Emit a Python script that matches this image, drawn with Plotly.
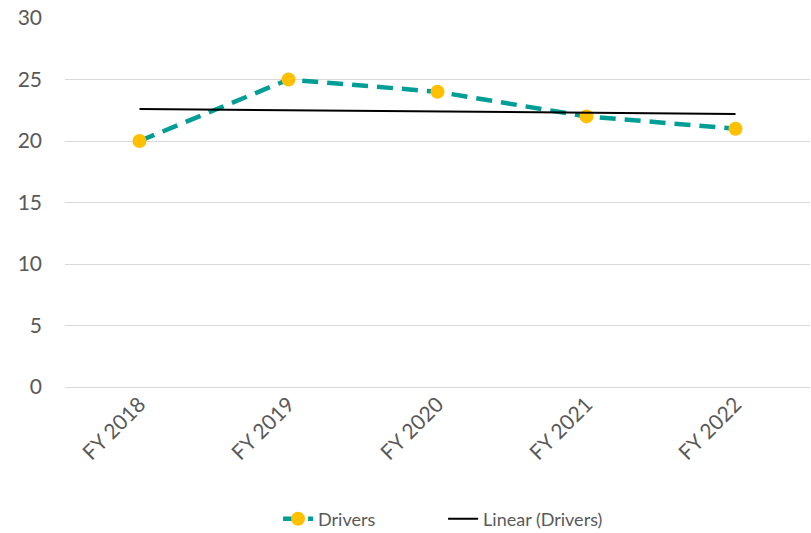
import numpy as np
import plotly.graph_objects as go

categories = ["FY 2018", "FY 2019", "FY 2020", "FY 2021", "FY 2022"]
drivers = [20, 25, 24, 22, 21]
y_ticks = [0, 5, 10, 15, 20, 25, 30]

# Linear trendline (least squares), as in the Excel chart
xi = np.arange(1, len(drivers) + 1)
slope, intercept = np.polyfit(xi, drivers, 1)
trend = list(slope * xi + intercept)

font_family = "Lato, 'Open Sans', sans-serif"
text_color = "#595959"

fig = go.Figure()
fig.add_trace(go.Scatter(
    x=categories, y=drivers, name="Drivers", mode="lines+markers",
    line=dict(color="#009E96", width=4.5, dash="16px,9px"),
    marker=dict(color="#FFC000", size=14, line=dict(width=0)),
))
fig.add_trace(go.Scatter(
    x=categories, y=trend, name="Linear (Drivers)", mode="lines",
    line=dict(color="#000000", width=2),
))

fig.update_layout(
    width=811, height=533,
    margin=dict(l=65, r=1, t=18, b=146, autoexpand=False),
    paper_bgcolor="white", plot_bgcolor="white",
    font=dict(family=font_family, size=20, color=text_color),
    showlegend=True,
    legend=dict(orientation="h", x=0.286, xanchor="left", y=-0.358, yanchor="middle",
                font=dict(size=18, color=text_color), entrywidth=120,
                traceorder="normal"),
    xaxis=dict(type="category", showgrid=False, showline=False, ticks="",
               tickangle=-45, tickfont=dict(size=21, color=text_color),
               range=[-0.5, len(categories) - 0.5], automargin=False),
    yaxis=dict(range=[0, 30], tickvals=y_ticks, showgrid=True, gridcolor="#D9D9D9",
               gridwidth=1.3, zeroline=True, zerolinecolor="#D9D9D9", zerolinewidth=1.3,
               showline=False, ticks="", ticklabelstandoff=22, automargin=False,
               tickfont=dict(size=21, color=text_color)),
)

fig.write_html("out.html", config={"displayModeBar": False},
               post_script="document.body.style.margin='0px';")
